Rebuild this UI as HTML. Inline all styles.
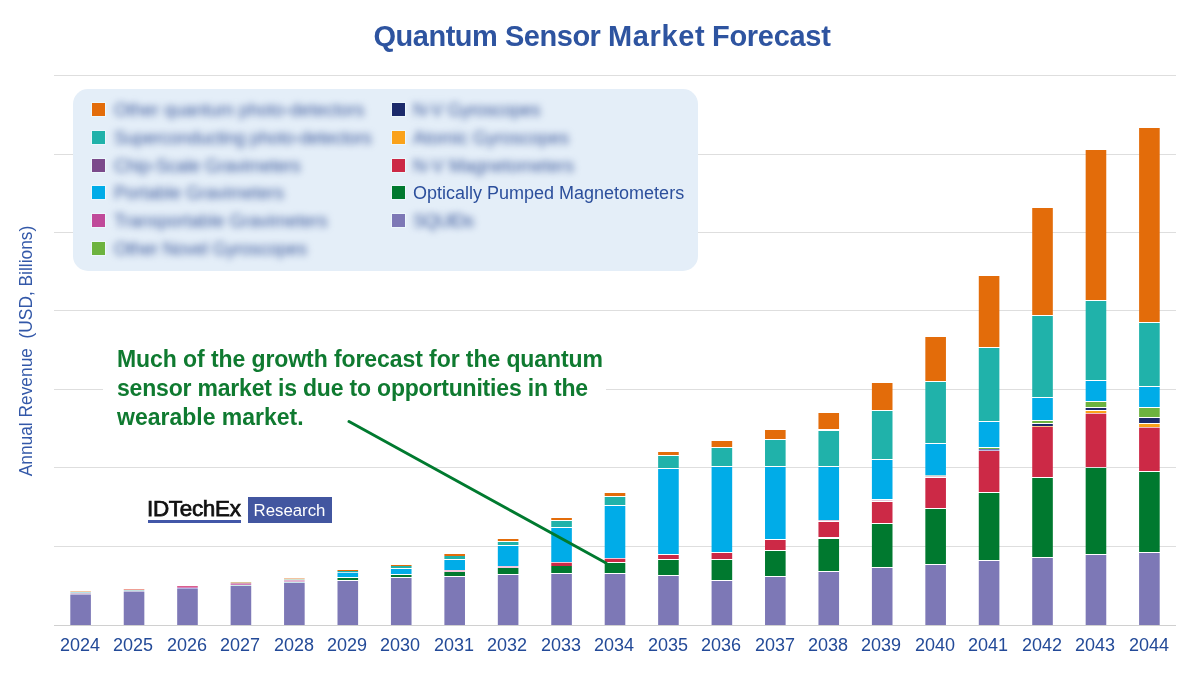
<!DOCTYPE html>
<html><head><meta charset="utf-8"><style>
*{margin:0;padding:0;box-sizing:border-box}
html,body{width:1200px;height:675px;overflow:hidden;background:#fff}
body{position:relative;font-family:"Liberation Sans",sans-serif}
.nl{will-change:transform}
.title{position:absolute;left:0;width:1200px;height:34px;top:18.75px;font-weight:bold;font-size:29px;line-height:34px;color:#2e54a0;transform:scaleY(1.0375);transform-origin:50% 27px;will-change:transform}
.title span{position:absolute;top:0;white-space:nowrap}
.g{position:absolute;left:54px;width:1122px;height:1px;background:#dedede}
.ax{position:absolute;left:54px;width:1122px;height:1px;top:625px;background:#d0d0d0}
.b{position:absolute;width:21px}
.xl{position:absolute;top:635px;width:60px;text-align:center;font-size:18px;color:#234a98;will-change:transform}
.yl{position:absolute;left:17px;top:350px;width:0;height:0}
.yl span{position:absolute;white-space:nowrap;transform:translate(-50%,-50%) rotate(-90deg) scaleX(0.937);left:8.3px;top:0.5px;font-size:18.5px;line-height:21px;color:#3358a8}
.leg{position:absolute;left:73px;top:89px;width:625px;height:182px;background:#e4eef8;border-radius:15px}
.sq{position:absolute;width:13px;height:13px;box-shadow:0 0 0 1px #ecf7fc}
.lt{position:absolute;font-size:18px;color:#2c4f9c;white-space:nowrap;line-height:22px;will-change:transform}
.lt.bl{filter:blur(3.5px);color:#3d5a9c}
.ann{position:absolute;left:103px;top:340px;width:503px;height:90px;background:#fff}
.ann div{position:absolute;left:14px;top:4.5px;font-weight:bold;font-size:23px;line-height:28.8px;color:#0f7a30;white-space:nowrap;will-change:transform}
.logo1{position:absolute;left:147px;top:495.7px;font-size:21.6px;color:#111;letter-spacing:-0.3px;-webkit-text-stroke:0.75px #111;transform:scaleX(1.04);transform-origin:0 0}
.logo1u{position:absolute;left:148px;top:520px;width:93px;height:2.5px;background:#4257a8}
.logo2{position:absolute;left:248px;top:497px;width:84px;height:26px;background:#4256a0;color:#fff;font-size:16.8px;line-height:28.5px;text-align:center;letter-spacing:0px;text-indent:-1px;will-change:transform}
</style></head><body>
<div class="title"><span style="left:373.5px;letter-spacing:-0.48px">Quantum Sensor</span><span style="left:608px;letter-spacing:0.65px">Market</span><span style="left:712px;letter-spacing:-0.3px">Forecast</span></div>
<div class="g" style="top:75px"></div>
<div class="g" style="top:154px"></div>
<div class="g" style="top:232px"></div>
<div class="g" style="top:310px"></div>
<div class="g" style="top:389px"></div>
<div class="g" style="top:467px"></div>
<div class="g" style="top:546px"></div>
<div class="ax"></div>
<svg style="position:absolute;left:0;top:0" width="1200" height="675">
<rect x="70.30" y="591" width="20.6" height="1" fill="#f6c9a4"/>
<rect x="70.30" y="592" width="20.6" height="1" fill="#b4e2ea"/>
<rect x="70.30" y="593" width="20.6" height="1" fill="#d9c3d3"/>
<rect x="70.30" y="594" width="20.6" height="1" fill="#bdb9dc"/>
<rect x="70.30" y="595" width="20.6" height="30" fill="#7d78b6"/>
<rect x="123.74" y="589" width="20.6" height="1" fill="#ee9f94"/>
<rect x="123.74" y="590" width="20.6" height="1" fill="#bfdfe0"/>
<rect x="123.74" y="591" width="20.6" height="1" fill="#c5c2e0"/>
<rect x="123.74" y="592" width="20.6" height="33" fill="#7d78b6"/>
<rect x="177.18" y="586" width="20.6" height="1" fill="#d95f8c"/>
<rect x="177.18" y="587" width="20.6" height="1" fill="#d884bb"/>
<rect x="177.18" y="588" width="20.6" height="1" fill="#b0b2e0"/>
<rect x="177.18" y="589" width="20.6" height="36" fill="#7d78b6"/>
<rect x="230.62" y="582" width="20.6" height="1" fill="#d8c49a"/>
<rect x="230.62" y="583" width="20.6" height="1" fill="#d8a0b8"/>
<rect x="230.62" y="584" width="20.6" height="1" fill="#d27cbc"/>
<rect x="230.62" y="585" width="20.6" height="1" fill="#cdebe6"/>
<rect x="230.62" y="586" width="20.6" height="39" fill="#7d78b6"/>
<rect x="284.06" y="578" width="20.6" height="1" fill="#f3c3a0"/>
<rect x="284.06" y="579" width="20.6" height="1" fill="#cfe3d3"/>
<rect x="284.06" y="580" width="20.6" height="2" fill="#e3b4d4"/>
<rect x="284.06" y="582" width="20.6" height="1" fill="#c9e6ec"/>
<rect x="284.06" y="583" width="20.6" height="42" fill="#7d78b6"/>
<rect x="337.50" y="570" width="20.6" height="1" fill="#e36c0a"/>
<rect x="337.50" y="571" width="20.6" height="1" fill="#20b2aa"/>
<rect x="337.50" y="572" width="20.6" height="1" fill="#bfe6f5"/>
<rect x="337.50" y="573" width="20.6" height="4" fill="#00ace8"/>
<rect x="337.50" y="578" width="20.6" height="2" fill="#00792f"/>
<rect x="337.50" y="581" width="20.6" height="44" fill="#7d78b6"/>
<rect x="390.94" y="565" width="20.6" height="1" fill="#e36c0a"/>
<rect x="390.94" y="566" width="20.6" height="2" fill="#20b2aa"/>
<rect x="390.94" y="569" width="20.6" height="5" fill="#00ace8"/>
<rect x="390.94" y="575" width="20.6" height="2" fill="#00792f"/>
<rect x="390.94" y="578" width="20.6" height="47" fill="#7d78b6"/>
<rect x="444.38" y="554" width="20.6" height="2" fill="#e36c0a"/>
<rect x="444.38" y="556" width="20.6" height="3" fill="#20b2aa"/>
<rect x="444.38" y="560" width="20.6" height="10" fill="#00ace8"/>
<rect x="444.38" y="570" width="20.6" height="2" fill="#f3c6dc"/>
<rect x="444.38" y="572" width="20.6" height="4" fill="#00792f"/>
<rect x="444.38" y="577" width="20.6" height="48" fill="#7d78b6"/>
<rect x="497.82" y="539" width="20.6" height="2" fill="#e36c0a"/>
<rect x="497.82" y="542" width="20.6" height="3" fill="#20b2aa"/>
<rect x="497.82" y="546" width="20.6" height="20" fill="#00ace8"/>
<rect x="497.82" y="566" width="20.6" height="2" fill="#f3c6dc"/>
<rect x="497.82" y="568" width="20.6" height="6" fill="#00792f"/>
<rect x="497.82" y="575" width="20.6" height="50" fill="#7d78b6"/>
<rect x="551.26" y="518" width="20.6" height="2" fill="#e36c0a"/>
<rect x="551.26" y="521" width="20.6" height="6" fill="#20b2aa"/>
<rect x="551.26" y="528" width="20.6" height="34" fill="#00ace8"/>
<rect x="551.26" y="562" width="20.6" height="1" fill="#f5c0d0"/>
<rect x="551.26" y="563" width="20.6" height="3" fill="#cc2946"/>
<rect x="551.26" y="566" width="20.6" height="7" fill="#00792f"/>
<rect x="551.26" y="574" width="20.6" height="51" fill="#7d78b6"/>
<rect x="604.70" y="493" width="20.6" height="3" fill="#e36c0a"/>
<rect x="604.70" y="497" width="20.6" height="8" fill="#20b2aa"/>
<rect x="604.70" y="506" width="20.6" height="52" fill="#00ace8"/>
<rect x="604.70" y="558" width="20.6" height="1" fill="#f5c0d0"/>
<rect x="604.70" y="559" width="20.6" height="3" fill="#cc2946"/>
<rect x="604.70" y="563" width="20.6" height="10" fill="#00792f"/>
<rect x="604.70" y="574" width="20.6" height="51" fill="#7d78b6"/>
<rect x="658.14" y="452" width="20.6" height="3" fill="#e36c0a"/>
<rect x="658.14" y="456" width="20.6" height="12" fill="#20b2aa"/>
<rect x="658.14" y="469" width="20.6" height="85" fill="#00ace8"/>
<rect x="658.14" y="555" width="20.6" height="4" fill="#cc2946"/>
<rect x="658.14" y="560" width="20.6" height="15" fill="#00792f"/>
<rect x="658.14" y="576" width="20.6" height="49" fill="#7d78b6"/>
<rect x="711.58" y="441" width="20.6" height="6" fill="#e36c0a"/>
<rect x="711.58" y="448" width="20.6" height="18" fill="#20b2aa"/>
<rect x="711.58" y="467" width="20.6" height="85" fill="#00ace8"/>
<rect x="711.58" y="553" width="20.6" height="6" fill="#cc2946"/>
<rect x="711.58" y="560" width="20.6" height="20" fill="#00792f"/>
<rect x="711.58" y="581" width="20.6" height="44" fill="#7d78b6"/>
<rect x="765.02" y="430" width="20.6" height="9" fill="#e36c0a"/>
<rect x="765.02" y="440" width="20.6" height="26" fill="#20b2aa"/>
<rect x="765.02" y="467" width="20.6" height="72" fill="#00ace8"/>
<rect x="765.02" y="540" width="20.6" height="10" fill="#cc2946"/>
<rect x="765.02" y="551" width="20.6" height="25" fill="#00792f"/>
<rect x="765.02" y="577" width="20.6" height="48" fill="#7d78b6"/>
<rect x="818.46" y="413" width="20.6" height="16" fill="#e36c0a"/>
<rect x="818.46" y="431" width="20.6" height="35" fill="#20b2aa"/>
<rect x="818.46" y="467" width="20.6" height="53" fill="#00ace8"/>
<rect x="818.46" y="520" width="20.6" height="1" fill="#e6c8dc"/>
<rect x="818.46" y="522" width="20.6" height="15" fill="#cc2946"/>
<rect x="818.46" y="539" width="20.6" height="32" fill="#00792f"/>
<rect x="818.46" y="572" width="20.6" height="53" fill="#7d78b6"/>
<rect x="871.90" y="383" width="20.6" height="27" fill="#e36c0a"/>
<rect x="871.90" y="411" width="20.6" height="48" fill="#20b2aa"/>
<rect x="871.90" y="460" width="20.6" height="39" fill="#00ace8"/>
<rect x="871.90" y="500" width="20.6" height="1" fill="#e6c8dc"/>
<rect x="871.90" y="502" width="20.6" height="21" fill="#cc2946"/>
<rect x="871.90" y="524" width="20.6" height="43" fill="#00792f"/>
<rect x="871.90" y="568" width="20.6" height="57" fill="#7d78b6"/>
<rect x="925.34" y="337" width="20.6" height="44" fill="#e36c0a"/>
<rect x="925.34" y="382" width="20.6" height="61" fill="#20b2aa"/>
<rect x="925.34" y="444" width="20.6" height="31" fill="#00ace8"/>
<rect x="925.34" y="475" width="20.6" height="1" fill="#b8dcd8"/>
<rect x="925.34" y="476" width="20.6" height="1" fill="#eccad6"/>
<rect x="925.34" y="478" width="20.6" height="30" fill="#cc2946"/>
<rect x="925.34" y="509" width="20.6" height="55" fill="#00792f"/>
<rect x="925.34" y="565" width="20.6" height="60" fill="#7d78b6"/>
<rect x="978.78" y="276" width="20.6" height="71" fill="#e36c0a"/>
<rect x="978.78" y="348" width="20.6" height="73" fill="#20b2aa"/>
<rect x="978.78" y="422" width="20.6" height="25" fill="#00ace8"/>
<rect x="978.78" y="448" width="20.6" height="1" fill="#6db33f"/>
<rect x="978.78" y="449" width="20.6" height="1" fill="#6f6fc0"/>
<rect x="978.78" y="450" width="20.6" height="1" fill="#c0bce0"/>
<rect x="978.78" y="451" width="20.6" height="41" fill="#cc2946"/>
<rect x="978.78" y="493" width="20.6" height="67" fill="#00792f"/>
<rect x="978.78" y="561" width="20.6" height="64" fill="#7d78b6"/>
<rect x="1032.22" y="208" width="20.6" height="107" fill="#e36c0a"/>
<rect x="1032.22" y="316" width="20.6" height="81" fill="#20b2aa"/>
<rect x="1032.22" y="398" width="20.6" height="22" fill="#00ace8"/>
<rect x="1032.22" y="421" width="20.6" height="2" fill="#6db33f"/>
<rect x="1032.22" y="424" width="20.6" height="2" fill="#1b2a6b"/>
<rect x="1032.22" y="426" width="20.6" height="1" fill="#fbc890"/>
<rect x="1032.22" y="427" width="20.6" height="50" fill="#cc2946"/>
<rect x="1032.22" y="478" width="20.6" height="79" fill="#00792f"/>
<rect x="1032.22" y="558" width="20.6" height="67" fill="#7d78b6"/>
<rect x="1085.66" y="150" width="20.6" height="150" fill="#e36c0a"/>
<rect x="1085.66" y="301" width="20.6" height="79" fill="#20b2aa"/>
<rect x="1085.66" y="381" width="20.6" height="20" fill="#00ace8"/>
<rect x="1085.66" y="402" width="20.6" height="5" fill="#6db33f"/>
<rect x="1085.66" y="408" width="20.6" height="2" fill="#1b2a6b"/>
<rect x="1085.66" y="411" width="20.6" height="2" fill="#faa21b"/>
<rect x="1085.66" y="413" width="20.6" height="1" fill="#f0b8c4"/>
<rect x="1085.66" y="414" width="20.6" height="53" fill="#cc2946"/>
<rect x="1085.66" y="468" width="20.6" height="86" fill="#00792f"/>
<rect x="1085.66" y="555" width="20.6" height="70" fill="#7d78b6"/>
<rect x="1139.10" y="128" width="20.6" height="194" fill="#e36c0a"/>
<rect x="1139.10" y="323" width="20.6" height="63" fill="#20b2aa"/>
<rect x="1139.10" y="387" width="20.6" height="20" fill="#00ace8"/>
<rect x="1139.10" y="408" width="20.6" height="9" fill="#6db33f"/>
<rect x="1139.10" y="418" width="20.6" height="5" fill="#1b2a6b"/>
<rect x="1139.10" y="424" width="20.6" height="3" fill="#faa21b"/>
<rect x="1139.10" y="427" width="20.6" height="1" fill="#f0b8c4"/>
<rect x="1139.10" y="428" width="20.6" height="43" fill="#cc2946"/>
<rect x="1139.10" y="472" width="20.6" height="80" fill="#00792f"/>
<rect x="1139.10" y="553" width="20.6" height="72" fill="#7d78b6"/>
</svg>
<div class="leg"></div>
<div class="sq" style="left:92px;top:103.00px;background:#e36c0a"></div>
<div class="lt bl" style="left:114px;top:99.00px;letter-spacing:0px">Other quantum photo-detectors</div>
<div class="sq" style="left:92px;top:130.75px;background:#20b2aa"></div>
<div class="lt bl" style="left:114px;top:126.75px;letter-spacing:-0.25px">Superconducting photo-detectors</div>
<div class="sq" style="left:92px;top:158.50px;background:#7b4a8b"></div>
<div class="lt bl" style="left:114px;top:154.50px;letter-spacing:-0.2px">Chip-Scale Gravimeters</div>
<div class="sq" style="left:92px;top:186.25px;background:#00ace8"></div>
<div class="lt bl" style="left:114px;top:182.25px;letter-spacing:0px">Portable Gravimeters</div>
<div class="sq" style="left:92px;top:214.00px;background:#c04a9a"></div>
<div class="lt bl" style="left:114px;top:210.00px;letter-spacing:0px">Transportable Gravimeters</div>
<div class="sq" style="left:92px;top:241.75px;background:#6db33f"></div>
<div class="lt bl" style="left:114px;top:237.75px;letter-spacing:-0.2px">Other Novel Gyroscopes</div>
<div class="sq" style="left:392px;top:103.00px;background:#1b2a6b"></div>
<div class="lt bl" style="left:413px;top:99.00px;letter-spacing:-0.35px">N-V Gyroscopes</div>
<div class="sq" style="left:392px;top:130.75px;background:#faa21b"></div>
<div class="lt bl" style="left:413px;top:126.75px;letter-spacing:0px">Atomic Gyroscopes</div>
<div class="sq" style="left:392px;top:158.50px;background:#cc2946"></div>
<div class="lt bl" style="left:413px;top:154.50px;letter-spacing:0px">N-V Magnetometers</div>
<div class="sq" style="left:392px;top:186.25px;background:#00792f"></div>
<div class="lt" style="left:413px;top:181.75px;letter-spacing:0px">Optically Pumped Magnetometers</div>
<div class="sq" style="left:392px;top:214.00px;background:#7d78b6"></div>
<div class="lt bl" style="left:413px;top:210.00px;letter-spacing:-1px">SQUIDs</div>
<div class="ann"><div><span style="letter-spacing:-0.08px">Much of the growth forecast for the quantum</span><br><span style="letter-spacing:-0.19px">sensor market is due to opportunities in the</span><br>wearable market.</div></div>
<svg style="position:absolute;left:0;top:0" width="1200" height="675"><line x1="349" y1="421.5" x2="606" y2="563" stroke="#007a2f" stroke-width="2.9" stroke-linecap="round"/></svg>
<div class="logo1">IDTechEx</div><div class="logo1u"></div>
<div class="logo2">Research</div>
<div class="yl"><span>Annual Revenue&nbsp;&nbsp;(USD, Billions)</span></div>
<div class="xl" style="left:49.8px">2024</div>
<div class="xl" style="left:103.2px">2025</div>
<div class="xl" style="left:156.7px">2026</div>
<div class="xl" style="left:210.1px">2027</div>
<div class="xl" style="left:263.6px">2028</div>
<div class="xl" style="left:317.0px">2029</div>
<div class="xl" style="left:370.4px">2030</div>
<div class="xl" style="left:423.9px">2031</div>
<div class="xl" style="left:477.3px">2032</div>
<div class="xl" style="left:530.8px">2033</div>
<div class="xl" style="left:584.2px">2034</div>
<div class="xl" style="left:637.6px">2035</div>
<div class="xl" style="left:691.1px">2036</div>
<div class="xl" style="left:744.5px">2037</div>
<div class="xl" style="left:798.0px">2038</div>
<div class="xl" style="left:851.4px">2039</div>
<div class="xl" style="left:904.8px">2040</div>
<div class="xl" style="left:958.3px">2041</div>
<div class="xl" style="left:1011.7px">2042</div>
<div class="xl" style="left:1065.2px">2043</div>
<div class="xl" style="left:1118.6px">2044</div>
</body></html>
